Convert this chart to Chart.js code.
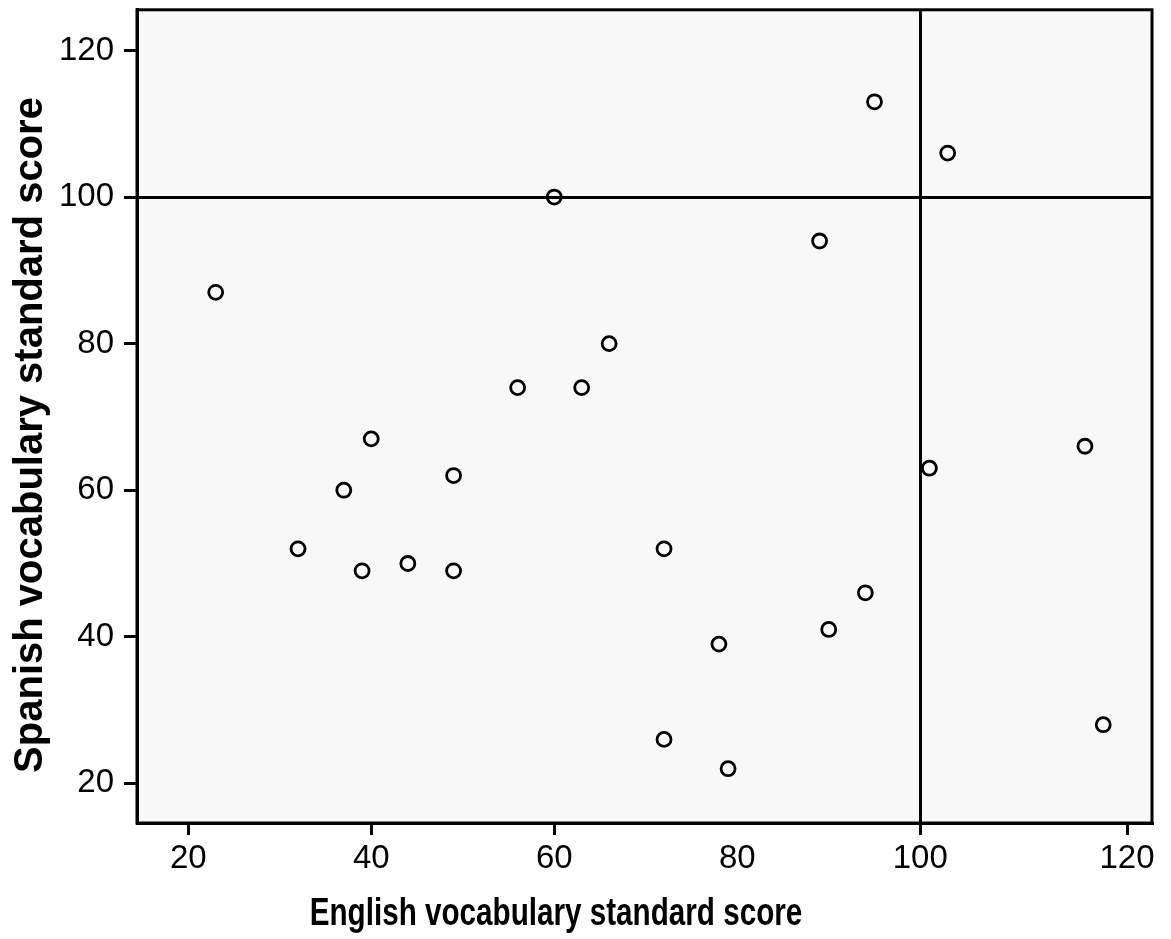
<!DOCTYPE html>
<html>
<head>
<meta charset="utf-8">
<script src="https://cdn.jsdelivr.net/npm/chart.js@4"></script>
<style>
  body { margin: 0; background: #fff; }
  #wrap { width: 1171px; height: 939px; }
</style>
</head>
<body>
<div id="wrap"><canvas id="scatter" width="1171" height="939"></canvas></div>
<script>
// English (x) and Spanish (y) vocabulary standard scores, one entry per child
const englishScores = [23, 60, 95, 103, 89, 66, 56, 63, 40, 37, 49, 32, 39, 44, 49, 72, 94, 90, 78, 72, 79, 118, 120, 101];
const spanishScores = [87, 100, 113, 106, 94, 80, 74, 74, 67, 60, 62, 52, 49, 50, 49, 52, 46, 41, 39, 26, 22, 66, 28, 63];

const xTickValues = [20, 40, 60, 80, 100, 122.6];
const xTickLabels = ["20", "40", "60", "80", "100", "120"];
const yTickValues = [20, 40, 60, 80, 100, 120];
const refValue = 100;

const xTitle = "English vocabulary standard score";
const yTitle = "Spanish vocabulary standard score";

const points = englishScores.map((x, i) => ({ x: x, y: spanishScores[i] }));

// plot background, frame and axis titles
const frame = {
  id: "frame",
  beforeDraw(chart) {
    const { ctx, chartArea: a } = chart;
    ctx.save();
    ctx.fillStyle = "#f8f8f8";
    ctx.fillRect(a.left, a.top, a.right - a.left, a.bottom - a.top);
    ctx.restore();
  },
  afterDraw(chart) {
    const { ctx, chartArea: a } = chart;
    ctx.save();
    ctx.strokeStyle = "#000";
    ctx.lineWidth = 3;
    ctx.strokeRect(a.left, a.top, a.right - a.left, a.bottom - a.top);
    ctx.fillStyle = "#000";
    ctx.textAlign = "center";
    ctx.textBaseline = "alphabetic";
    // x title is set in a condensed bold face
    ctx.save();
    ctx.font = "bold 38px 'Liberation Sans', Arial, sans-serif";
    ctx.translate(556, 925);
    ctx.scale(0.78, 1);
    ctx.fillText(xTitle, 0, 0);
    ctx.restore();
    ctx.translate(42, 435);
    ctx.rotate(-Math.PI / 2);
    ctx.font = "bold 40px 'Liberation Sans', Arial, sans-serif";
    ctx.fillText(yTitle, 0, 0);
    ctx.restore();
  }
};

new Chart(document.getElementById("scatter").getContext("2d"), {
  type: "scatter",
  data: {
    datasets: [{
      data: points,
      pointRadius: 7,
      pointHoverRadius: 7,
      pointBorderWidth: 2.8,
      pointBackgroundColor: "rgba(0,0,0,0)",
      pointBorderColor: "#000"
    }]
  },
  options: {
    responsive: false,
    animation: false,
    layout: { padding: { top: 9, right: 19, left: 0, bottom: 0 } },
    plugins: { legend: { display: false }, tooltip: { enabled: false } },
    scales: {
      x: {
        type: "linear",
        min: 14.4,
        max: 125.33,
        afterBuildTicks: s => { s.ticks = xTickValues.map(v => ({ value: v })); },
        afterFit: s => { s.height = 116; s.paddingLeft = 0; s.paddingRight = 0; },
        ticks: {
          color: "#000",
          font: { family: "'Liberation Sans', Arial, sans-serif", size: 33 },
          padding: 4,
          maxRotation: 0,
          autoSkip: false,
          callback: (v, i) => xTickLabels[i]
        },
        grid: {
          color: c => (c.tick && c.tick.value === refValue ? "#000" : "rgba(0,0,0,0)"),
          lineWidth: 3,
          tickLength: 12,
          tickColor: c => (c.tick && c.tick.value === 80 ? "rgba(0,0,0,0)" : "#000"),
          tickWidth: 3
        },
        border: { color: "#000", width: 3 }
      },
      y: {
        type: "linear",
        min: 14.59,
        max: 125.55,
        afterBuildTicks: s => { s.ticks = yTickValues.map(v => ({ value: v })); },
        afterFit: s => { s.width = 137; s.paddingTop = 0; s.paddingBottom = 0; },
        ticks: {
          color: "#000",
          font: { family: "'Liberation Sans', Arial, sans-serif", size: 33 },
          padding: 10,
          autoSkip: false
        },
        grid: {
          color: c => (c.tick && c.tick.value === refValue ? "#000" : "rgba(0,0,0,0)"),
          lineWidth: 3,
          tickLength: 13,
          tickColor: "#000",
          tickWidth: 3
        },
        border: { color: "#000", width: 3 }
      }
    }
  },
  plugins: [frame]
});
</script>
</body>
</html>
